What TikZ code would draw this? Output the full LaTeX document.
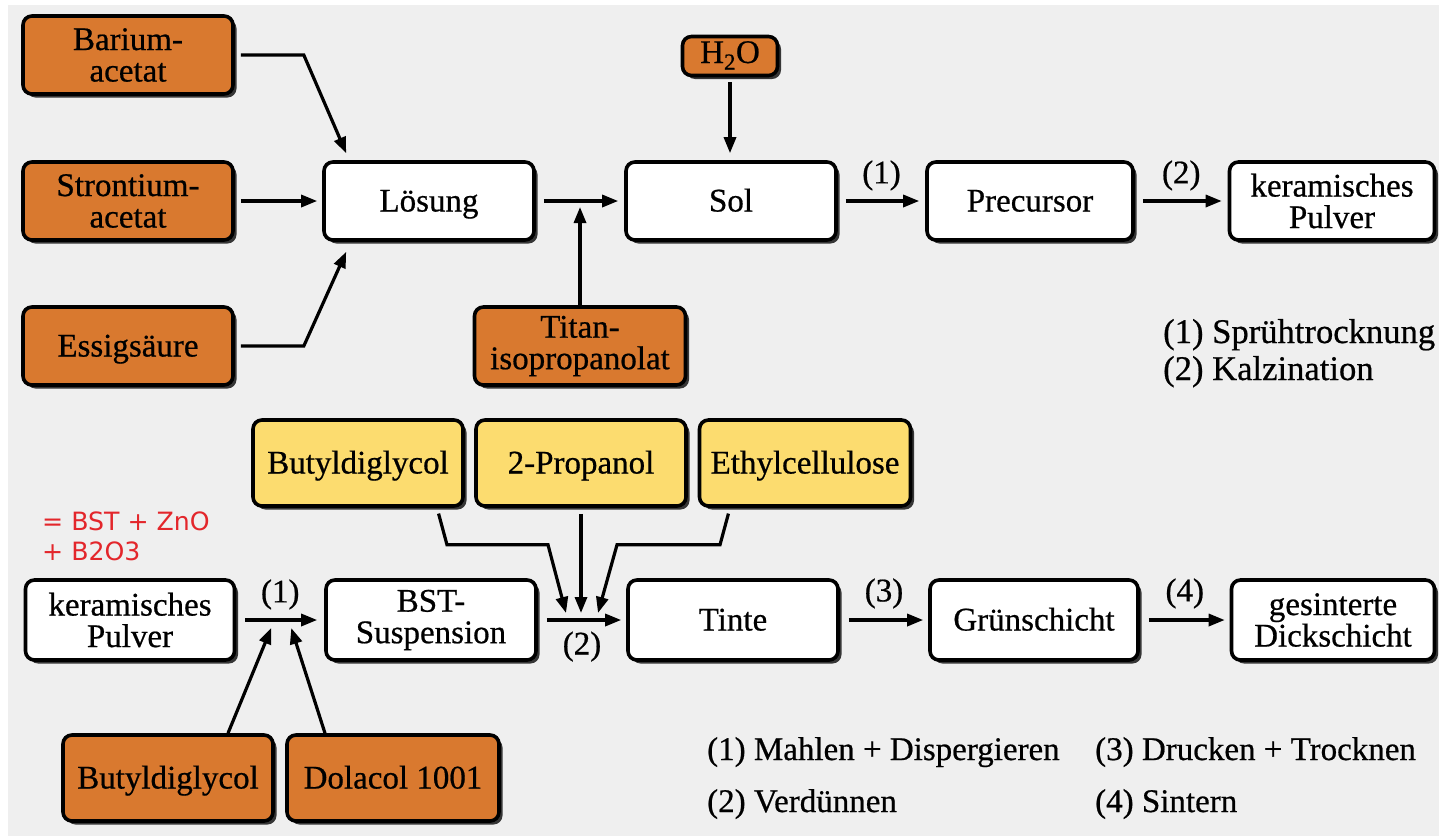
\documentclass[tikz,border=0pt]{standalone}
\usepackage{fontspec}
\setmainfont{Liberation Serif}[FakeBold=0.6]
\newfontfamily\redfont{DejaVu Sans}
\usetikzlibrary{arrows.meta,shadows,calc}
\definecolor{bgc}{HTML}{EFEFEF}
\definecolor{orng}{HTML}{D9792F}
\definecolor{yel}{HTML}{FCDC6F}
\definecolor{redt}{HTML}{E3262B}
\definecolor{shad}{HTML}{363636}
\begin{document}
\begin{tikzpicture}[x=1pt,y=-1pt,
  box/.style={draw=black, line width=3.6pt, rounded corners=9pt, fill=white, align=center,
    inner sep=0pt, minimum height=78pt, minimum width=210pt,
    font=\fontsize{33}{31.5}\selectfont,
    general shadow={fill=shad, shadow xshift=3.5pt, shadow yshift=-3.5pt}},
  sbox/.style={box, text height=24pt, text depth=3pt},
  obox/.style={box, fill=orng},
  sobox/.style={sbox, fill=orng},
  ybox/.style={sbox, fill=yel, minimum height=86pt},
  bbox/.style={box, minimum height=80pt},
  sbbox/.style={sbox, minimum height=80pt},
  arr/.style={line width=3.2pt, -{Triangle[length=16pt,width=12pt]}},
  lab/.style={font=\fontsize{33}{31}\selectfont, inner sep=0pt},
  tlab/.style={font=\fontsize{34.6}{37}\selectfont, inner sep=0pt, anchor=base west},
  blab/.style={font=\fontsize{33}{31}\selectfont, inner sep=0pt, anchor=base west},
  redlab/.style={font=\redfont\fontsize{25.2}{30}\selectfont, text=redt, inner sep=0pt, anchor=base west}
]
\fill[white] (0,0) rectangle (1439,836);
\fill[bgc] (8,5) rectangle (1439,836);
\useasboundingbox (0,0) rectangle (1439,836);

% ---------- top part ----------
\node[obox] (bar) at (128,55) {Barium-\\acetat};
\node[obox] (str) at (128,201) {Strontium-\\acetat};
\node[sobox] (ess) at (128,346) {Essigsäure};
\node[sbox] (loe) at (429,201) {Lösung};
\node[obox, minimum width=95pt, minimum height=39pt, text height=22pt, text depth=8pt] (h2o) at (730,56) {H\textsubscript{2}O};
\node[sbox] (sol) at (731,201) {Sol};
\node[obox, minimum width=211pt] (tit) at (580,346) {Titan-\\isopropanolat};
\node[sbox, minimum width=206pt] (pre) at (1030,201) {Precursor};
\node[box, minimum width=205pt] (ker) at (1332,201) {keramisches\\Pulver};

\draw[arr, shorten <=6pt] (bar.east) -- ++(69,0) -- ([xshift=24pt,yshift=7pt]loe.north west);
\draw[arr, shorten <=6pt, shorten >=5pt] (str.east) -- (loe.west);
\draw[arr, shorten <=6pt] (ess.east) -- ++(69,0) -- ([xshift=24pt,yshift=-10pt]loe.south west);
\draw[arr, shorten <=8pt, shorten >=6pt] (loe.east) -- (sol.west);
\coordinate (j1) at (tit.north |- loe.east);
\draw[arr] (tit.north) -- ([yshift=-6pt]j1);
\draw[arr, shorten <=5pt, shorten >=7pt] (h2o.south) -- (h2o.south |- sol.north);
\draw[arr, shorten <=8pt, shorten >=6pt] (sol.east) -- node[lab, above=9pt] {(1)} (pre.west);
\draw[arr, shorten <=8pt, shorten >=6pt] (pre.east) -- node[lab, above=9pt] {(2)} (ker.west);

\node[tlab] (l1) at (1163,343) {(1) Sprühtrocknung};
\node[tlab] (l2) at (1163,380) {(2) Kalzination};

% ---------- bottom part ----------
\node[redlab] (r1) at (42,530) {= BST + ZnO};
\node[redlab] (r2) at (42,560) {+ B2O3};

\node[ybox] (bdy) at (358,463) {Butyldiglycol};
\node[ybox] (pro) at (581,463) {2-Propanol};
\node[ybox, minimum width=211pt] (eth) at (805,463) {Ethylcellulose};

\node[bbox, minimum width=209pt] (kb) at (130,620) {keramisches\\Pulver};
\node[bbox] (bst) at (431,620) {BST-\\Suspension};
\node[sbbox] (tin) at (733,620) {Tinte};
\node[sbbox, minimum width=208pt] (gru) at (1034,620) {Grünschicht};
\node[bbox, minimum width=203pt] (ges) at (1333,620) {gesinterte\\Dickschicht};

\node[sobox, minimum height=86pt] (buo) at (168,778) {Butyldiglycol};
\node[sobox, minimum height=86pt, minimum width=212pt] (dol) at (393,778) {Dolacol 1001};

\draw[arr, shorten <=9pt, shorten >=7pt] (kb.east) -- node[lab, above=9pt] {(1)} (bst.west);
\coordinate (j2) at ($(kb.east)!0.5!(bst.west)$);
\draw[arr] ([xshift=60pt]buo.north) -- ([xshift=-9pt,yshift=-8pt]j2);
\draw[arr] ([xshift=-68pt]dol.north) -- ([xshift=11pt,yshift=-8pt]j2);

\draw[arr, shorten <=9pt, shorten >=5pt] (bst.east) -- node[lab, below=10pt] {(2)} (tin.west);
\coordinate (j3) at (pro.south |- bst.east);
\draw[arr, shorten <=6pt] (pro.south) -- ([yshift=7pt]j3);
\draw[arr, shorten <=6pt] ([xshift=79pt]bdy.south) -- ++(10,37) -- ++(101,0) -- ([xshift=-15pt,yshift=7pt]j3);
\draw[arr, shorten <=6pt] ([xshift=-75pt]eth.south) -- ++(-10,37) -- ++(-103,0) -- ([xshift=17pt,yshift=7pt]j3);

\draw[arr, shorten <=9pt, shorten >=5pt] (tin.east) -- node[lab, above=10pt] {(3)} (gru.west);
\draw[arr, shorten <=9pt, shorten >=5pt] (gru.east) -- node[lab, above=10pt] {(4)} (ges.west);

\node[blab] (m1) at (707,760) {(1) Mahlen + Dispergieren};
\node[blab] (m2) at (707,812) {(2) Verdünnen};
\node[blab] (m3) at (1095,760) {(3) Drucken + Trocknen};
\node[blab] (m4) at (1095,812) {(4) Sintern};
\end{tikzpicture}
\end{document}
